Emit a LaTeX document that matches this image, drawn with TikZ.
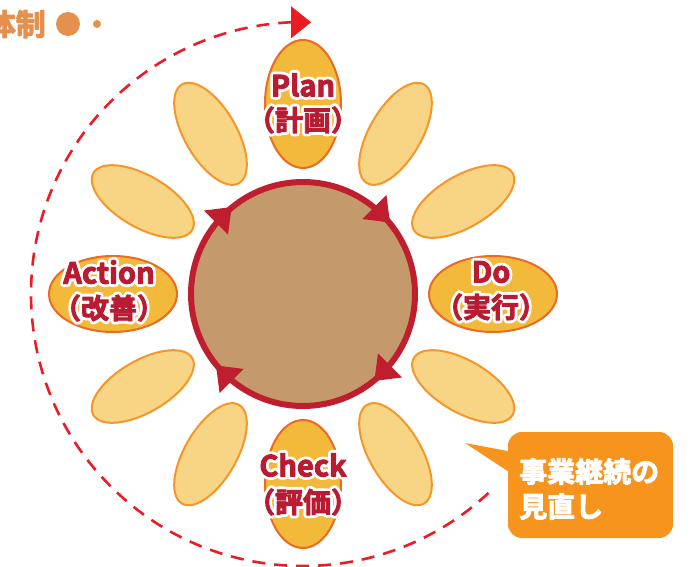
\documentclass[tikz,border=0pt]{standalone}
\usepackage{fontspec}
\setmainfont{Noto Sans CJK JP}[BoldFont={Noto Sans CJK JP Bold}]
\usetikzlibrary{calc}
\definecolor{petalA}{HTML}{F2B93B}
\definecolor{petalAedge}{HTML}{EB6A24}
\definecolor{petalB}{HTML}{F7D585}
\definecolor{petalBedge}{HTML}{F5962A}
\definecolor{hubfill}{HTML}{C4996B}
\definecolor{hubred}{HTML}{BE1E2D}
\definecolor{lblred}{HTML}{B91C32}
\definecolor{dashred}{HTML}{EC1C24}
\definecolor{calloutcol}{HTML}{F7941D}
\definecolor{topcol}{HTML}{E5904E}
% stroked text: #1 = stroke width, #2 = text
\newcommand\stk[2]{\special{pdf:literal direct 2 Tr #1 w 1 j}#2\special{pdf:literal direct 0 Tr}}
\tikzset{
  mainpetal/.style={fill=petalA, draw=petalAedge, line width=2},
  lightpetal/.style={fill=petalB, draw=petalBedge, line width=2},
  lbltxt/.style={inner sep=0, font=\bfseries\fontsize{29}{29}\selectfont},
  lbltxtb/.style={inner sep=0, font=\bfseries\fontsize{28}{28}\selectfont},
  dashline/.style={draw=dashred, line width=2.6, dash pattern=on 13 off 9},
}
\newcommand\halotext[4]{% #1 style, #2 name, #3 coordinate, #4 text
  \node[#1, text=white] (#2h) at (#3) {\stk{6.5}{#4}};
  \node[#1, text=lblred] (#2) at (#3) {\stk{0.9}{#4}};
}
\begin{document}
\begin{tikzpicture}[x=1pt,y=1pt]
\useasboundingbox (0,0) rectangle (691,-567);
\coordinate (C) at (303,-294);
% dashed cycle arc
\draw[dashline] ($(C)+(-47:272)$) arc[start angle=-47, end angle=-267.5, radius=272] coordinate (arcend);
\fill[dashred] (arcend) ++(0,16) -- ++(20,-16) -- ++(-20,-16) -- cycle;
% light petals
\foreach \t in {30,60,120,150,210,240,300,330}{
  \begin{scope}[shift={(C)}, rotate=\t]
    \draw[lightpetal] (185,0) ellipse [x radius=57, y radius=26];
  \end{scope}
}
% main petals
\foreach \t in {0,90,180,270}{
  \begin{scope}[shift={(C)}, rotate=\t]
    \draw[mainpetal] (190,0) ellipse [x radius=64, y radius=38];
  \end{scope}
}
% hub
\node[circle, minimum size=224, fill=hubfill, draw=hubred, line width=6, inner sep=0] (hub) at (C) {};
\foreach \t in {135,45,-45,-135}{
  \begin{scope}[shift={($(C)+(\t:112)$)}, rotate=\t-90]
    \fill[hubred] (11,0) -- (-11,17) -- (-11,-17) -- cycle;
  \end{scope}
}
% labels
\coordinate (planA) at (303,-85);  \coordinate (planB) at (303,-120);
\coordinate (doA) at (491,-272);   \coordinate (doB) at (491,-307);
\coordinate (checkA) at (303,-465);\coordinate (checkB) at (303,-502);
\coordinate (actA) at (109,-272);  \coordinate (actB) at (109,-308);
\halotext{lbltxt}{plan}{planA}{Plan}
\halotext{lbltxtb}{planj}{planB}{（計画）}
\halotext{lbltxt}{do}{doA}{Do}
\halotext{lbltxtb}{doj}{doB}{（実行）}
\halotext{lbltxt}{check}{checkA}{Check}
\halotext{lbltxtb}{checkj}{checkB}{（評価）}
\halotext{lbltxt}{act}{actA}{Action}
\halotext{lbltxtb}{actj}{actB}{（改善）}
% top-left title fragment
\node[anchor=east, inner sep=0, text=topcol, font=\bfseries\fontsize{30}{30}\selectfont] (title) at (46,-24) {\stk{1}{体制}};
\node[circle, fill=topcol, minimum size=24, inner sep=0] (dotA) at (68,-24) {};
\node[circle, fill=topcol, minimum size=8, inner sep=0] (dotB) at (97,-24) {};
% callout
\node[rounded corners=14, fill=calloutcol, minimum width=165, minimum height=106, inner sep=0] (cb) at (590.5,-485) {};
\coordinate (ptip) at (465,-443);
\fill[calloutcol] (ptip) -- ($(cb.north west)+(4,-20)$) -- ($(cb.north west)+(4,-42)$) -- cycle;
\node[anchor=west, text=white, align=left, inner sep=0, font=\bfseries\fontsize{28}{35}\selectfont] (cbt) at (519,-489) {\stk{0.9}{事業継続の}\\\stk{0.9}{見直し}};
\end{tikzpicture}
\end{document}
